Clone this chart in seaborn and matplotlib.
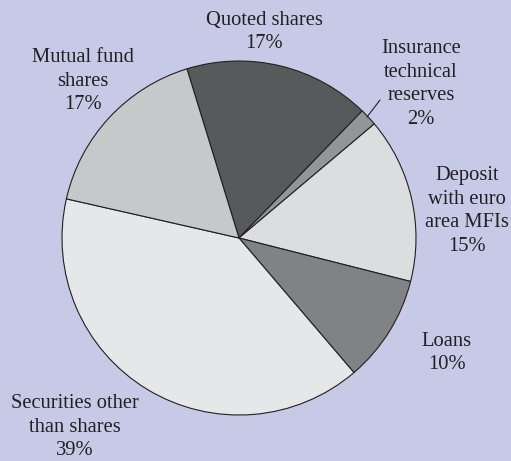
import matplotlib
matplotlib.use("Agg")
import matplotlib.pyplot as plt
import seaborn as sns

categories = ["Quoted shares", "Insurance technical reserves", "Deposit with euro area MFIs",
              "Loans", "Securities other than shares", "Mutual fund shares"]
values = [17.0, 1.6, 15.1, 9.8, 39.8, 16.7]
label_texts = ["Quoted shares\n17%", "Insurance\ntechnical\nreserves\n2%",
               "Deposit\nwith euro\narea MFIs\n15%", "Loans\n10%",
               "Securities other\nthan shares\n39%", "Mutual fund\nshares\n17%"]
colors = ["#58595b", "#939598", "#dcdddf", "#808285", "#e6e7e9", "#c7c8ca"]

sns.set_theme(style="white")
plt.rcParams['font.family'] = ['Liberation Serif', 'DejaVu Serif']

W, H = 511, 461
bg = "#c6cae6"
fig = plt.figure(figsize=(W / 100, H / 100), dpi=100, facecolor=bg)
cx, cy, r = 239, 238, 177
ax = fig.add_axes([(cx - r) / W, (H - cy - r) / H, 2 * r / W, 2 * r / H])
ax.set_facecolor(bg)
ax.pie(values, colors=colors, startangle=107.1, counterclock=False, radius=1,
       wedgeprops=dict(edgecolor="#231f20", linewidth=0.8))
ax.set_xlim(-1, 1)
ax.set_ylim(-1, 1)
ax.set_aspect("equal")
ax.axis("off")

# label positions in pixel coordinates (centre of text block)
label_px = [(264, 32), (421, 84), (467, 211), (447, 353), (75, 427), (83, 81)]
for txt, (px, py) in zip(label_texts, label_px):
    fig.text(px / W, 1 - py / H, txt, ha="center", va="center", fontsize=14.8,
             color="#231f20", linespacing=1.32)

# leader line for the small slice
fig.add_artist(plt.Line2D([367 / W, 380 / W], [1 - 117 / H, 1 - 100 / H],
                          color="#231f20", linewidth=0.8))

fig.savefig("out.png", dpi=100, facecolor=bg)
